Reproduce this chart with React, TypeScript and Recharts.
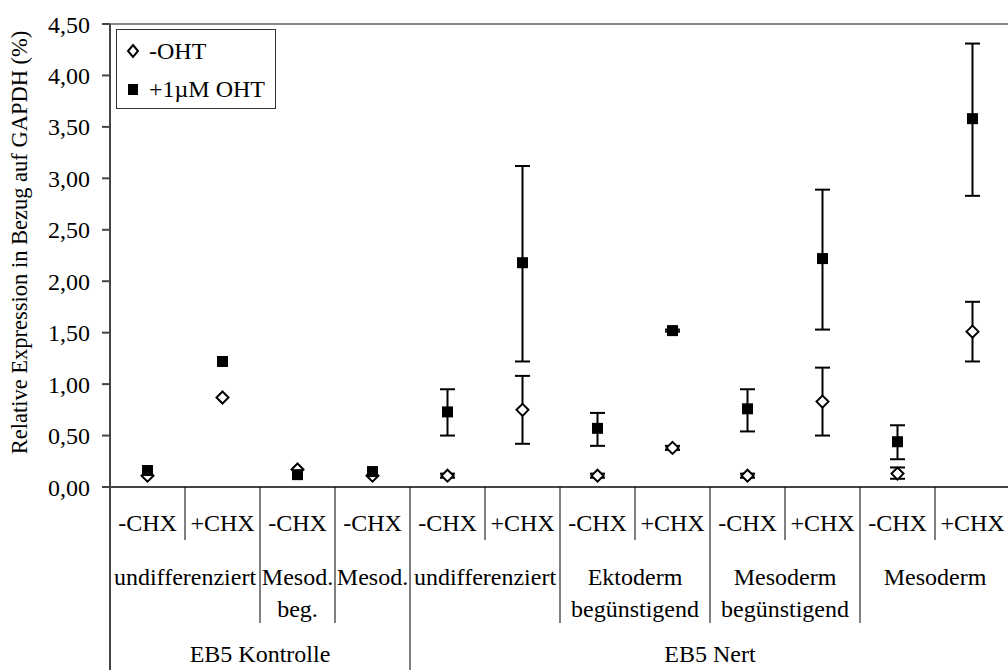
import React from 'react';
import { ComposedChart, Line, XAxis, YAxis, ErrorBar, ReferenceLine, Legend } from 'recharts';

// x-Achse: drei Ebenen
const categories = ['-CHX', '+CHX', '-CHX', '-CHX', '-CHX', '+CHX', '-CHX', '+CHX', '-CHX', '+CHX', '-CHX', '+CHX'];
const stages = [
  { lines: ['undifferenziert'], span: 2 },
  { lines: ['Mesod.', 'beg.'], span: 1 },
  { lines: ['Mesod.'], span: 1 },
  { lines: ['undifferenziert'], span: 2 },
  { lines: ['Ektoderm', 'begünstigend'], span: 2 },
  { lines: ['Mesoderm', 'begünstigend'], span: 2 },
  { lines: ['Mesoderm'], span: 2 },
];
const cellLines = [
  { label: 'EB5 Kontrolle', span: 4 },
  { label: 'EB5 Nert', span: 8 },
];

// Werte (%), Fehler als [unten, oben]
const minusOHT = [0.11, 0.87, 0.17, 0.11, 0.11, 0.75, 0.11, 0.38, 0.11, 0.83, 0.13, 1.51];
const minusOHTErr = [null, null, null, null, [0.02, 0.02], [0.33, 0.33], [0.02, 0.02], [0.02, 0.02], [0.02, 0.02], [0.33, 0.33], [0.05, 0.06], [0.29, 0.29]];
const plusOHT = [0.16, 1.22, 0.12, 0.15, 0.73, 2.18, 0.57, 1.52, 0.76, 2.22, 0.44, 3.58];
const plusOHTErr = [null, null, null, null, [0.23, 0.22], [0.96, 0.94], [0.17, 0.15], [0.01, 0.01], [0.22, 0.19], [0.69, 0.67], [0.17, 0.16], [0.75, 0.73]];
const yTicks = [0, 0.5, 1, 1.5, 2, 2.5, 3, 3.5, 4, 4.5];

const data = categories.map((c, i) => ({
  id: i,
  cat: c,
  minus: minusOHT[i],
  minusErr: minusOHTErr[i],
  plus: plusOHT[i],
  plusErr: plusOHTErr[i],
}));

const FONT = "'Liberation Serif', 'DejaVu Serif', serif";
const CHART_W = 1010;
const CHART_H = 670;
const Y_W = 110;
const BAND = (CHART_W - Y_W) / categories.length;

// Grenzen nach Index (Ende einer Gruppe)
const stageEnds = new Set<number>();
const stageStarts = new Map<number, { lines: string[]; span: number }>();
let acc = 0;
stages.forEach((s) => {
  stageStarts.set(acc, s);
  acc += s.span;
  stageEnds.add(acc - 1);
});
const groupEnds = new Set<number>();
const groupStarts = new Map<number, { label: string; span: number }>();
acc = 0;
cellLines.forEach((g) => {
  groupStarts.set(acc, g);
  acc += g.span;
  groupEnds.add(acc - 1);
});

function CategoryTick(props: any) {
  const { x, y, index } = props;
  const half = BAND / 2;
  const txt = { fontFamily: FONT, fontSize: 24, fill: '#000', textAnchor: 'middle' as const, dominantBaseline: 'central' as const };
  const stage = stageStarts.get(index);
  const group = groupStarts.get(index);
  let divEnd = 53;
  if (stageEnds.has(index)) divEnd = 136;
  if (groupEnds.has(index)) divEnd = 183;
  return (
    <g>
      <text x={x} y={y + 36} {...txt}>{categories[index]}</text>
      {index < categories.length - 1 && (
        <line x1={x + half} x2={x + half} y1={y} y2={y + divEnd} stroke="#000" strokeWidth={1} />
      )}
      {index === 0 && <line x1={x - half} x2={x - half} y1={y} y2={y + 183} stroke="#444" strokeWidth={2} />}
      {stage &&
        stage.lines.map((l, k) => (
          <text key={k} x={x + (stage.span - 1) * half} y={y + 90 + k * 32} {...txt}>{l}</text>
        ))}
      {group && (
        <text x={x + (group.span - 1) * half} y={y + 167} {...txt}>{group.label}</text>
      )}
    </g>
  );
}

function Diamond({ cx, cy }: { cx: number; cy: number }) {
  return <path d={`M${cx},${cy - 6} L${cx + 6},${cy} L${cx},${cy + 6} L${cx - 6},${cy} Z`} fill="#fff" stroke="#000" strokeWidth={2} />;
}

function Square({ cx, cy }: { cx: number; cy: number }) {
  return <rect x={cx - 5.5} y={cy - 5.5} width={11} height={11} fill="#000" />;
}

function LegendBox() {
  const row = { position: 'absolute' as const, left: 0, display: 'flex', alignItems: 'center', height: 30 };
  return (
    <div style={{ position: 'relative', width: 160, height: 80, border: '1px solid #333', boxSizing: 'border-box', background: '#fff', fontFamily: FONT, fontSize: 24, color: '#000' }}>
      <div style={{ ...row, top: 6 }}>
        <svg width={32} height={30}>
          <path d="M16,9 L21,15 L16,21 L11,15 Z" fill="#fff" stroke="#000" strokeWidth={2} />
        </svg>
        <span>-OHT</span>
      </div>
      <div style={{ ...row, top: 44 }}>
        <svg width={32} height={30}>
          <rect x={11} y={10} width={10} height={11} fill="#000" />
        </svg>
        <span>+1µM OHT</span>
      </div>
    </div>
  );
}

function YLabel(props: any) {
  const vb = props.viewBox || { x: 0, y: 24, width: Y_W, height: 463 };
  const cy = vb.y + vb.height / 2 - 13;
  return (
    <text x={19} y={cy} transform={`rotate(-90, 19, ${cy})`} textAnchor="middle" dominantBaseline="central" fontFamily={FONT} fontSize={22.5} fill="#000">
      Relative Expression in Bezug auf GAPDH (%)
    </text>
  );
}

export default function App() {
  return (
    <div style={{ position: 'absolute', left: 0, top: 0, width: 1008, height: 670, overflow: 'hidden', background: '#fff' }}>
      <ComposedChart width={CHART_W} height={CHART_H} data={data} margin={{ top: 24, right: 0, bottom: 0, left: 0 }}>
        <XAxis
          dataKey="id"
          type="category"
          scale="band"
          interval={0}
          height={183}
          tickLine={false}
          tickSize={0}
          tickMargin={0}
          tick={<CategoryTick />}
          axisLine={{ stroke: '#444', strokeWidth: 2 }}
        />
        <YAxis
          type="number"
          domain={[0, 4.5]}
          ticks={yTicks}
          width={Y_W}
          tickSize={8}
          tickMargin={12}
          tickFormatter={(v: number) => v.toFixed(2).replace('.', ',')}
          tick={{ fill: '#000', fontSize: 24, fontFamily: FONT }}
          tickLine={{ stroke: '#444', strokeWidth: 2 }}
          axisLine={{ stroke: '#444', strokeWidth: 2 }}
          label={<YLabel />}
        />
        <ReferenceLine y={4.5} stroke="#888" strokeWidth={2} />
        <Legend
          layout="vertical"
          align="center"
          verticalAlign="middle"
          content={<LegendBox />}
          wrapperStyle={{ left: 116, top: 29, width: 160, height: 80 }}
        />
        <Line
          dataKey="minus"
          name="-OHT"
          stroke="none"
          isAnimationActive={false}
          activeDot={false}
          dot={(p: any) => <Diamond key={`d-${p.index}`} cx={p.cx} cy={p.cy} />}
        >
          <ErrorBar dataKey="minusErr" direction="y" width={7.5} stroke="#000" strokeWidth={2} isAnimationActive={false} />
        </Line>
        <Line
          dataKey="plus"
          name="+1µM OHT"
          stroke="none"
          isAnimationActive={false}
          activeDot={false}
          dot={(p: any) => <Square key={`s-${p.index}`} cx={p.cx} cy={p.cy} />}
        >
          <ErrorBar dataKey="plusErr" direction="y" width={7.5} stroke="#000" strokeWidth={2} isAnimationActive={false} />
        </Line>
      </ComposedChart>
    </div>
  );
}
